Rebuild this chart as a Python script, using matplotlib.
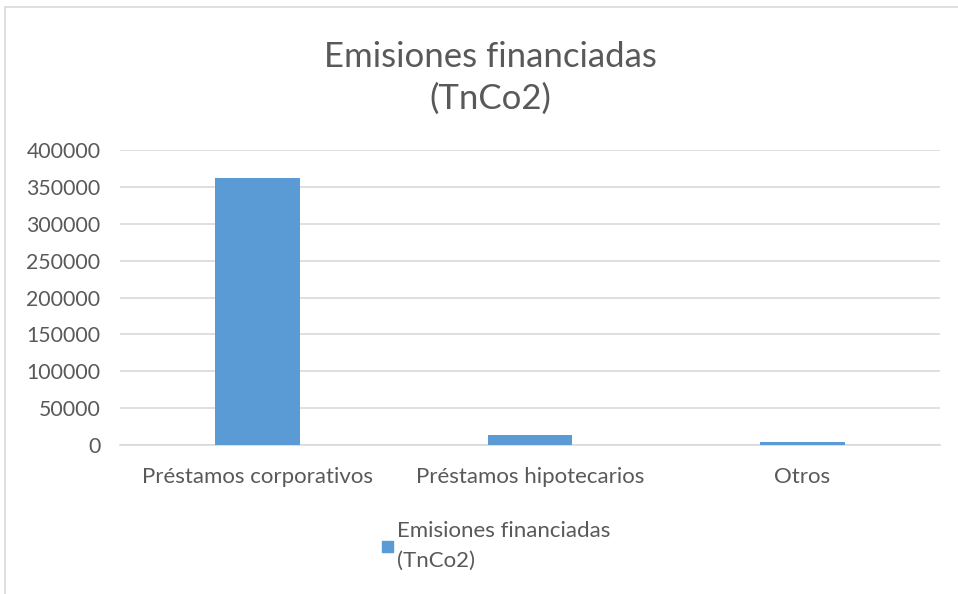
import matplotlib
matplotlib.use('Agg')
import matplotlib.pyplot as plt
from matplotlib.patches import Rectangle

categories = ['Préstamos corporativos', 'Préstamos hipotecarios', 'Otros']
values = [362000, 14000, 4500]
series_name = 'Emisiones financiadas\n(TnCo2)'
yticks = [0, 50000, 100000, 150000, 200000, 250000, 300000, 350000, 400000]

plt.rcParams['font.family'] = ['Lato', 'DejaVu Sans']
text_color = '#595959'
bar_color = '#5b9bd5'
grid_color = '#d9d9d9'

fig = plt.figure(figsize=(9.58, 5.94), dpi=100)
# chart frame (cropped on right/bottom)
fig.patches.append(Rectangle((5 / 958, -0.1), 2, 1.1 - 7 / 594, transform=fig.transFigure,
                             fill=False, edgecolor=grid_color, linewidth=1.2))

ax = fig.add_axes([120 / 958, 1 - 445 / 594, 820 / 958, 295 / 594])
x = range(len(categories))
ax.bar(x, values, width=0.31, color=bar_color, zorder=3)
ax.set_xlim(-0.505, len(categories) - 0.495)
ax.set_ylim(0, 400000)
ax.set_yticks(yticks)
ax.set_yticklabels([str(v) for v in yticks])
ax.set_xticks(list(x))
ax.set_xticklabels(categories)
ax.grid(axis='y', color=grid_color, linewidth=1.2, zorder=0)
for s in ['top', 'right', 'left']:
    ax.spines[s].set_visible(False)
ax.spines['bottom'].set_color(grid_color)
ax.spines['bottom'].set_linewidth(1.2)
ax.tick_params(axis='both', length=0, colors=text_color)
ax.tick_params(axis='y', pad=14, labelsize=15.3)
ax.tick_params(axis='x', pad=16, labelsize=16)

fig.text(490 / 958, 1 - 78 / 594, 'Emisiones financiadas\n(TnCo2)', ha='center', va='center',
         fontsize=25, color=text_color, linespacing=1.38)

# legend
fig.patches.append(Rectangle((382 / 958, 1 - 552 / 594), 11 / 958, 11 / 594,
                             transform=fig.transFigure, color=bar_color))
fig.text(397 / 958, 1 - 546 / 594, series_name, ha='left', va='center',
         fontsize=16, color=text_color, linespacing=1.6)

fig.savefig('out.png', dpi=100)
